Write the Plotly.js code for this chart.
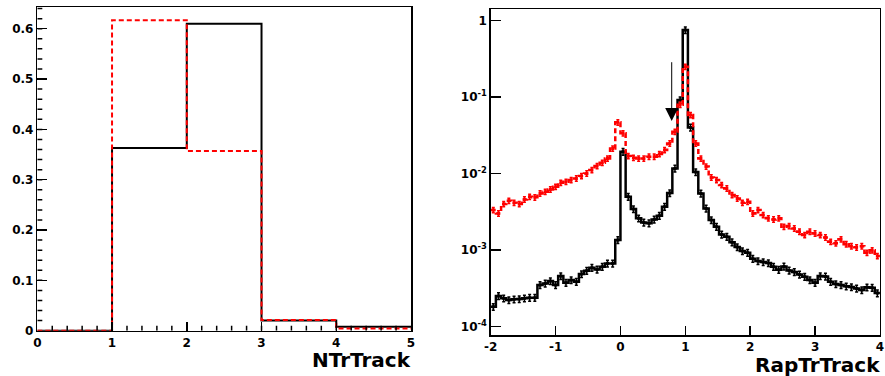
<!DOCTYPE html>
<html><head><meta charset="utf-8">
<script src="https://cdn.plot.ly/plotly-3.0.1.min.js"></script>
<style>html,body{margin:0;padding:0;background:#fff}#chart{width:885px;height:376px}</style>
</head><body><div id="chart"></div>
<script>
// ---- Left panel: NTrTrack ----
const ntrEdges = [0, 1, 2, 3, 4, 5];
const ntrBlack = [0, 0.363, 0.610, 0.020, 0.008];
const ntrRed   = [0, 0.617, 0.357, 0.021, 0.0045];

// ---- Right panel: RapTrTrack (75 bins from -2 to 4) ----
const rapMin = -2, rapMax = 4;
const rapBlack = [
  1.82e-4, 2.52e-4, 2.35e-4, 2.23e-4, 2.28e-4, 2.30e-4, 2.35e-4, 2.39e-4, 2.39e-4, 3.51e-4,
  3.68e-4, 3.95e-4, 3.51e-4, 4.59e-4, 3.76e-4, 4.07e-4, 3.87e-4, 4.88e-4, 5.40e-4, 5.90e-4,
  5.61e-4, 6.08e-4, 6.73e-4, 6.73e-4, 1.36e-3, 1.94e-2, 5.0e-3, 3.45e-3, 2.61e-3, 2.31e-3,
  2.26e-3, 2.53e-3, 2.82e-3, 3.71e-3, 5.59e-3, 1.17e-2, 9.18e-2, 0.755, 4.03e-2, 1.05e-2,
  5.53e-3, 3.52e-3, 2.48e-3, 2.03e-3, 1.61e-3, 1.50e-3, 1.27e-3, 1.10e-3, 9.75e-4, 9.27e-4,
  7.74e-4, 7.22e-4, 7.00e-4, 6.79e-4, 6.08e-4, 5.56e-4, 6.15e-4, 5.45e-4, 5.19e-4, 4.83e-4,
  4.51e-4, 4.07e-4, 3.76e-4, 4.59e-4, 4.55e-4, 3.87e-4, 3.61e-4, 3.51e-4, 3.37e-4, 3.30e-4,
  3.17e-4, 3.01e-4, 3.27e-4, 3.23e-4, 2.75e-4
];
const rapRed = [
  3.35e-3, 3.03e-3, 4.01e-3, 4.44e-3, 4.18e-3, 4.01e-3, 4.62e-3, 5.0e-3, 4.91e-3, 5.53e-3,
  5.82e-3, 6.24e-3, 6.76e-3, 7.62e-3, 7.86e-3, 8.27e-3, 8.69e-3, 9.31e-3, 1.01e-2, 1.12e-2,
  1.26e-2, 1.39e-2, 1.58e-2, 2.14e-2, 4.69e-2, 3.37e-2, 1.70e-2, 1.62e-2, 1.58e-2, 1.58e-2,
  1.67e-2, 1.67e-2, 1.81e-2, 2.04e-2, 2.49e-2, 3.54e-2, 7.98e-2, 0.250, 5.85e-2, 2.49e-2,
  1.58e-2, 1.24e-2, 8.95e-3, 8.27e-3, 7.11e-3, 6.43e-3, 5.26e-3, 4.76e-3, 4.18e-3, 4.31e-3,
  3.03e-3, 3.35e-3, 2.88e-3, 2.61e-3, 2.53e-3, 2.61e-3, 2.03e-3, 2.07e-3, 1.93e-3, 1.75e-3,
  1.58e-3, 1.75e-3, 1.66e-3, 1.58e-3, 1.47e-3, 1.29e-3, 1.23e-3, 1.39e-3, 1.20e-3, 1.13e-3,
  1.09e-3, 1.13e-3, 9.27e-4, 1.00e-3, 8.39e-4
];
const rapTicks = [-2, -1, 0, 1, 2, 3, 4];
const rapTickText = ['-2', '-1', '0', '1', '2', '3', '4'];
const logTicks = [1e-4, 1e-3, 1e-2, 1e-1, 1];
const logTickText = ['10<sup>-4</sup>', '10<sup>-3</sup>', '10<sup>-2</sup>', '10<sup>-1</sup>', '1'];
const arrowX = 0.79, arrowTop = 0.30, arrowTip = 0.049;

// ---- helpers ----
const nb = rapBlack.length;
const rapW = (rapMax - rapMin) / nb;
const rapEdges = Array.from({length: nb + 1}, (_, i) => rapMin + i * rapW);
const rapCenters = rapEdges.slice(0, nb).map(e => e + rapW / 2);
function stepY(v) { return v.concat([v[v.length - 1]]); }

const BLACK = '#000000', RED = '#ff0000';
const FONT = 'DejaVu Sans';

const traces = [
  {x: ntrEdges, y: stepY(ntrBlack), xaxis: 'x', yaxis: 'y', mode: 'lines',
   line: {shape: 'hv', color: BLACK, width: 2}, hoverinfo: 'skip'},
  {x: ntrEdges, y: stepY(ntrRed), xaxis: 'x', yaxis: 'y', mode: 'lines',
   line: {shape: 'hv', color: RED, width: 2, dash: '5px,3px'}, hoverinfo: 'skip'},
  {x: rapEdges, y: stepY(rapBlack), xaxis: 'x2', yaxis: 'y2', mode: 'lines',
   line: {shape: 'hv', color: BLACK, width: 2.5}, hoverinfo: 'skip'},
  {x: rapCenters, y: rapBlack, xaxis: 'x2', yaxis: 'y2', mode: 'markers',
   marker: {size: 3, color: BLACK, symbol: 'square'},
   error_y: {type: 'percent', value: 10, color: BLACK, thickness: 1.5, width: 1.5}},
  {x: rapEdges, y: stepY(rapRed), xaxis: 'x2', yaxis: 'y2', mode: 'lines',
   line: {shape: 'hv', color: RED, width: 2.5, dash: '5px,3px'}, hoverinfo: 'skip'},
  {x: rapCenters, y: rapRed, xaxis: 'x2', yaxis: 'y2', mode: 'markers',
   marker: {size: 3, color: RED, symbol: 'square'},
   error_y: {type: 'percent', value: 8, color: RED, thickness: 1.5, width: 1.5}}
];

const tickFont = {family: FONT, size: 12, weight: 'bold', color: '#000'};
const axBase = {showgrid: false, zeroline: false, showline: true, linecolor: '#000', linewidth: 1.5,
  mirror: true, ticks: 'inside', ticklen: 10, tickwidth: 1.5, tickcolor: '#000', tickfont: tickFont};

const xDomL = [0.04215, 0.46441], yDomL = [0.1205, 0.9806];
const xDomR = [0.55446, 0.9943], yDomR = [0.10904, 0.97606];
const rangeNtrX = [0, 5], rangeNtrY = [0, 0.6426];
const rangeRapX = [rapMin, rapMax], rangeRapY = [-4.108, 0.153];

// short (minor) ticks as pixel-sized shapes anchored on the axes
const MINLEN = 5, tickLine = {color: '#000', width: 1.5};
const shapes = [];
function xMinor(xref, yref, yBase, lo, hi, step) {
  const n = Math.round((hi - lo) / step);
  for (let k = 1; k < n; k++) {
    const v = lo + k * step;
    shapes.push({type: 'line', xref, yref, x0: v, x1: v, ysizemode: 'pixel', yanchor: yBase,
      y0: 0, y1: MINLEN, line: tickLine, layer: 'above'});
  }
}
function yMinorVals(xref, yref, xBase, vals) {
  vals.forEach(v => shapes.push({type: 'line', xref, yref, y0: v, y1: v, xsizemode: 'pixel', xanchor: xBase,
    x0: 0, x1: MINLEN, line: tickLine, layer: 'above'}));
}
xMinor('x', 'y', rangeNtrY[0], rangeNtrX[0], rangeNtrX[1], 0.2);
xMinor('x2', 'y2', rangeRapY[0], rangeRapX[0], rangeRapX[1], 0.2);
const linMinor = [];
for (let k = 1; k * 0.02 < rangeNtrY[1]; k++) linMinor.push(k * 0.02);
yMinorVals('x', 'y', rangeNtrX[0], linMinor);
const logMinor = [];
for (let d = -5; d <= 0; d++) for (let m = 2; m <= 9; m++) {
  const lv = Math.log10(m) + d;
  if (lv > rangeRapY[0] && lv < rangeRapY[1]) logMinor.push(lv);
}
yMinorVals('x2', 'y2', rangeRapX[0], logMinor);

const layout = {
  width: 885, height: 376, margin: {l: 0, r: 0, t: 0, b: 0},
  paper_bgcolor: '#fff', plot_bgcolor: '#fff', showlegend: false,
  xaxis: Object.assign({}, axBase, {domain: xDomL, range: rangeNtrX, dtick: 1, tick0: 0, ticklen: 9}),
  yaxis: Object.assign({}, axBase, {domain: yDomL, range: rangeNtrY, dtick: 0.1, tick0: 0}),
  xaxis2: Object.assign({}, axBase, {domain: xDomR, range: rangeRapX, anchor: 'y2', ticklen: 9,
    tickmode: 'array', tickvals: rapTicks, ticktext: rapTickText}),
  yaxis2: Object.assign({}, axBase, {domain: yDomR, type: 'log', range: rangeRapY,
    anchor: 'x2', tickmode: 'array', tickvals: logTicks, ticktext: logTickText}),
  shapes: shapes,
  annotations: [
    {text: 'NTrTrack', xref: 'paper', yref: 'paper', x: 0.4663, y: 0.0426, xanchor: 'right', yanchor: 'middle',
     showarrow: false, font: {family: FONT, size: 20, weight: 'bold', color: '#000'}},
    {text: 'RapTrTrack', xref: 'paper', yref: 'paper', x: 0.9963, y: 0.0293, xanchor: 'right', yanchor: 'middle',
     showarrow: false, font: {family: FONT, size: 20, weight: 'bold', color: '#000'}},
    {text: '', xref: 'x2', yref: 'y2', x: arrowX, y: Math.log10(arrowTip), axref: 'x2', ayref: 'y2',
     ax: arrowX, ay: Math.log10(arrowTop), showarrow: true, arrowhead: 2, arrowsize: 2.6, arrowwidth: 1,
     arrowcolor: '#000'}
  ]
};

Plotly.newPlot('chart', traces, layout, {staticPlot: true, displayModeBar: false});
</script></body></html>
